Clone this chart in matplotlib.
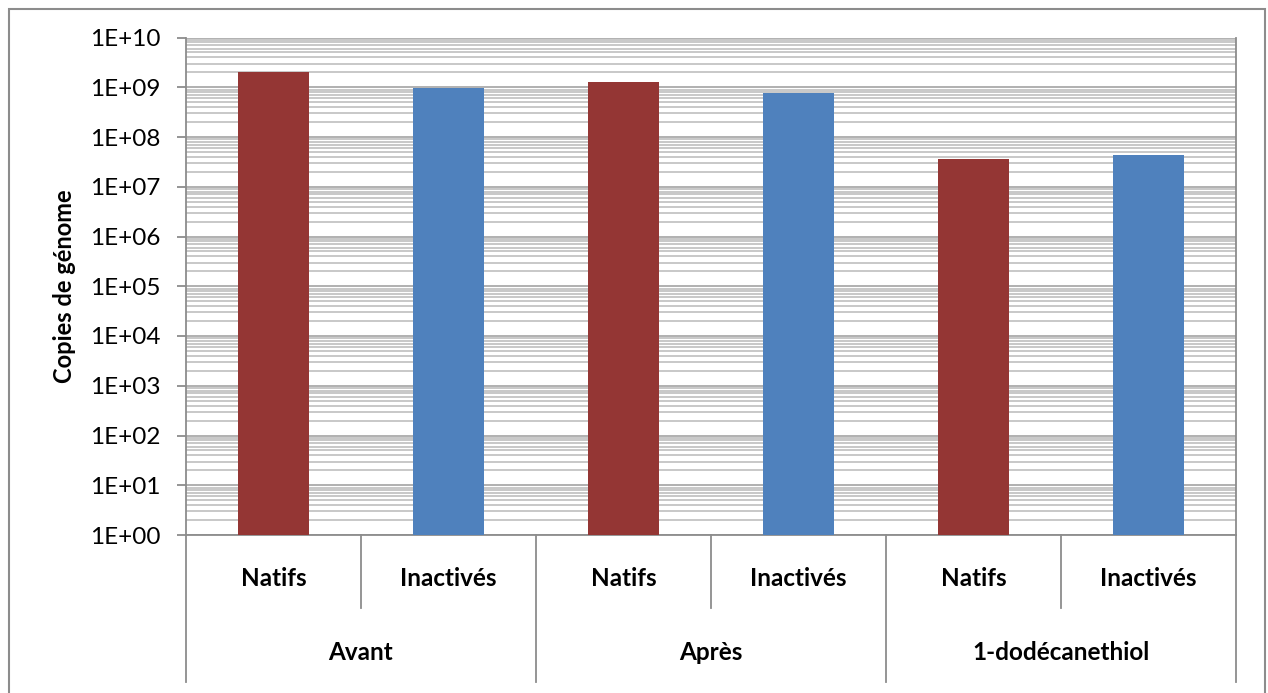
import matplotlib
matplotlib.use("Agg")
import matplotlib.pyplot as plt
from matplotlib.patches import Rectangle
from matplotlib.ticker import LogLocator, NullFormatter, FixedLocator

plt.rcParams['font.family'] = ['Lato', 'DejaVu Sans']

groups = ["Avant", "Après", "1-dodécanethiol"]
subcats = ["Natifs", "Inactivés"]
values = [2.0e9, 9.5e8, 1.26e9, 7.5e8, 3.6e7, 4.3e7]
colors_series = ["#943634", "#4f81bd"]
ytick_vals = [10.0 ** k for k in range(0, 11)]
ytick_labels = ["1E+%02d" % k for k in range(0, 11)]

W, H = 1268, 693
fig = plt.figure(figsize=(W / 100, H / 100), dpi=100)
left, right, top, bottom = 186, 1236, 37.5, 535
ax = fig.add_axes([left / W, 1 - bottom / H, (right - left) / W, (bottom - top) / H])

# chart-area border
fig.patches.append(Rectangle((9 / W, -0.02), (1265 - 9) / W, 1 - 9 / H + 0.02,
                             transform=fig.transFigure, fill=False,
                             edgecolor="#8c8c8c", linewidth=1.5, zorder=0))

x = list(range(len(values)))
cols = [colors_series[i % 2] for i in range(len(values))]
ax.bar(x, values, width=0.41, color=cols, bottom=1, zorder=3)

ax.set_yscale("log")
ax.set_ylim(1, 1e10)
ax.set_xlim(-0.5, len(values) - 0.5)
ax.yaxis.set_major_locator(FixedLocator(ytick_vals))
ax.set_yticks(ytick_vals)
ax.set_yticklabels(ytick_labels, fontsize=17.5)
ax.yaxis.set_minor_locator(LogLocator(base=10, subs=range(2, 10), numticks=20))
ax.yaxis.set_minor_formatter(NullFormatter())
ax.grid(which="major", axis="y", color="#b0b0b0", linewidth=1.4, zorder=1)
ax.grid(which="minor", axis="y", color="#bfbfbf", linewidth=1.2, zorder=1)
ax.tick_params(axis="y", which="major", length=6.5, width=1.3, color="#8c8c8c", pad=12)
ax.tick_params(axis="y", which="minor", length=0)
ax.set_xticks([])
for s in ["left", "bottom", "right"]:
    ax.spines[s].set_color("#8c8c8c")
    ax.spines[s].set_linewidth(1.3)
ax.spines["top"].set_visible(False)

ax.set_ylabel("Copies de génome", fontsize=17, fontweight="bold")
ax.yaxis.set_label_coords((76 - left) / (right - left), 0.5)

# multi-level category axis
axh = bottom - top
def ay(py):
    return (bottom - py) / axh

tr = ax.get_xaxis_transform()
y_lvl1_end = ay(608)
y_lvl2_end = ay(682)
for b in range(len(values) + 1):
    xb = b - 0.5
    yend = y_lvl2_end if b % 2 == 0 else y_lvl1_end
    ax.plot([xb, xb], [0, yend], transform=tr, color="#8c8c8c", linewidth=1.3,
            clip_on=False, zorder=2)
for i in range(len(values)):
    ax.text(i, ay(579), subcats[i % 2], transform=tr, ha="center", va="center",
            fontsize=17.5, fontweight="bold")
for g, name in enumerate(groups):
    ax.text(2 * g + 0.5, ay(652), name, transform=tr, ha="center", va="center",
            fontsize=17.5, fontweight="bold")

fig.savefig("out.png", dpi=100)
